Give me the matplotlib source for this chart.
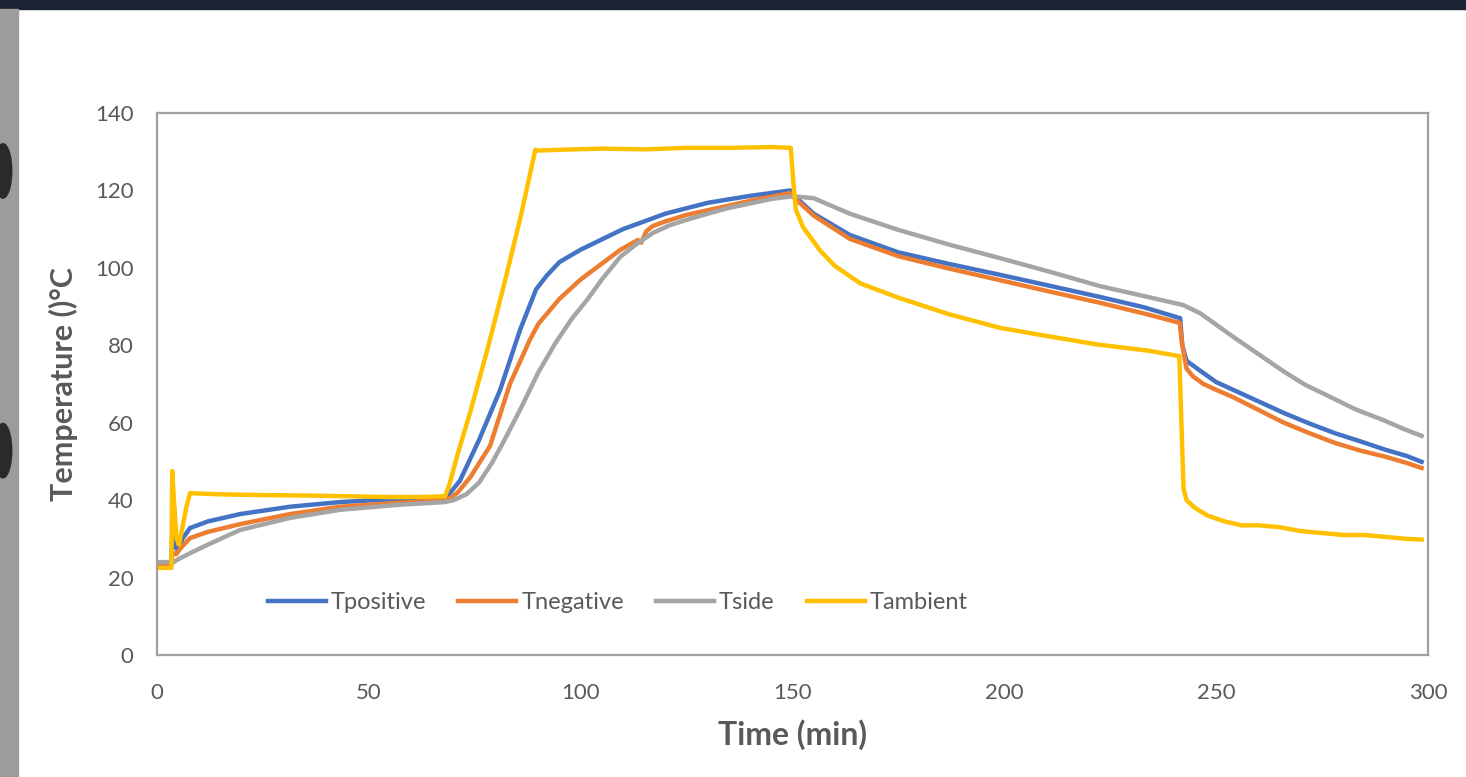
import numpy as np
import matplotlib.pyplot as plt
from matplotlib.patches import Rectangle, Ellipse

# time (min) / temperature values
t_pos = [0, 3.4, 3.6, 4.2, 5.0, 6.0, 7.8, 12, 19.6, 31.4, 43.2, 55, 65, 68.5, 71.5, 76, 81, 85.7,
         89.5, 92, 95, 100, 110, 120, 130, 140, 149.5, 150.5, 155, 163.5, 175, 187, 199, 211,
         222.5, 233, 241.5, 242.0, 243, 246, 250, 254, 260, 266, 272, 278, 284, 290, 295, 298.5]
T_pos = [23.5, 23.5, 32, 28, 27, 30, 32.8, 34.5, 36.4, 38.3, 39.5, 40.2, 40.6, 41, 45, 55.5, 68.5, 84,
         94.5, 98, 101.5, 104.7, 110, 114, 116.8, 118.6, 120, 118.5, 114, 108.5, 104, 101, 98.2, 95.3,
         92.5, 89.8, 87, 80, 76, 73.6, 70.5, 68.5, 65.5, 62.5, 59.8, 57.3, 55.2, 53, 51.4, 49.9]

t_neg = [0, 3.4, 3.6, 4.5, 5.5, 7.8, 12, 19.6, 31.4, 43.2, 57, 68.5, 71, 74, 78.6, 83.3, 88, 90, 95,
         100, 104.5, 109.3, 112, 113.5, 114.3, 115.5, 117, 120, 125, 133, 140.7, 149.4, 150.5, 155,
         163.5, 175, 187, 199, 211, 222.5, 233, 241.4, 242, 243, 244.5, 247, 250, 254, 260, 266, 272,
         278, 284, 290, 295, 298.5]
T_neg = [23.5, 23.5, 26.5, 26, 27.5, 30.2, 31.8, 33.8, 36.4, 38.3, 39.3, 40, 42, 46, 54, 70, 81.4, 85.5, 92,
         97, 100.7, 104.6, 106.3, 107.2, 106.5, 109.5, 110.8, 112, 113.7, 115.6, 117.5, 119.3, 118, 113.5,
         107.5, 103, 99.8, 96.8, 93.8, 91, 88.2, 85.8, 80, 74, 72, 70, 68.5, 66.6, 63.3, 60, 57.3,
         54.8, 52.8, 51.2, 49.6, 48.3]

t_side = [0, 4.0, 4.6, 5.5, 7.8, 12, 19.6, 31.4, 43.2, 57, 68, 70, 73, 76, 79, 82, 86, 90, 94, 98, 101.5,
          105, 109.3, 113, 117, 121, 125, 130, 135, 140.7, 145, 150, 155, 163.5, 175, 187, 199, 210.7,
          222.5, 233, 242.2, 246.2, 254, 262, 266, 271, 277.6, 283, 289.4, 294, 298.5]
T_side = [24, 24, 24.5, 25, 26.3, 28.5, 32.3, 35.4, 37.5, 38.8, 39.5, 40, 41.5, 44.5, 49.5, 55.5, 64, 73, 80.5, 87, 91.7,
          97, 102.8, 106, 109, 111, 112.4, 114, 115.5, 116.8, 117.8, 118.5, 118, 114, 109.8, 106, 102.5, 99,
          95.3, 92.7, 90.4, 88.3, 82.2, 76.2, 73.2, 69.8, 66.3, 63.4, 60.7, 58.5, 56.6]

t_amb = [0, 3.4, 3.6, 4.0, 4.6, 5.2, 6.0, 7.0, 7.8, 15, 25, 35, 45, 55, 62, 68, 69, 71, 74, 78, 82, 86,
         89.3, 90, 95, 105, 115, 125, 135, 145, 149.6, 150.2, 150.8, 152.5, 156.5, 160, 166, 175, 187,
         199, 210, 222, 234, 241.3, 241.8, 242.3, 243, 245, 248, 252, 256, 260, 265, 270, 275, 280, 285,
         290, 295, 298.5]
T_amb = [22.5, 22.5, 47.5, 40, 30, 28.5, 33, 38.5, 41.8, 41.5, 41.3, 41.2, 41.0, 40.8, 40.8, 41, 44, 52, 63,
         79, 96, 114, 130.5, 130.3, 130.5, 130.8, 130.6, 131, 131, 131.2, 131, 122, 115, 110.5, 104.5, 100.5,
         96, 92.3, 88, 84.5, 82.4, 80.2, 78.6, 77.2, 60, 43, 40, 38, 36, 34.5, 33.5, 33.5, 33, 32, 31.5,
         31, 31, 30.5, 30, 29.8]

series = [("Tpositive", t_pos, T_pos, "#4472C4"),
          ("Tnegative", t_neg, T_neg, "#ED7D31"),
          ("Tside", t_side, T_side, "#A5A5A5"),
          ("Tambient", t_amb, T_amb, "#FFC000")]

plt.rcParams['font.family'] = ['Lato', 'DejaVu Sans']
txt = "#595959"

fig = plt.figure(figsize=(14.66, 7.77), dpi=100)
fig.patch.set_facecolor("white")
# frame of the screenshot: dark band on top, grey strip on the left
fig.patches.append(Rectangle((0, 1 - 9/777), 1, 9/777, transform=fig.transFigure,
                             color="#1c2333", zorder=0))
fig.patches.append(Rectangle((0, 0), 18/1466, 1 - 9/777, transform=fig.transFigure,
                             color="#9c9c9c", zorder=0))
for yc in [0.78, 0.42]:
    fig.patches.append(Ellipse((0.002, yc), 0.012, 0.07, transform=fig.transFigure,
                               color="#2a2a2a", zorder=1))

ax = fig.add_axes([157/1466, 1 - 655/777, 1271/1466, 542/777])
for name, t, T, c in series:
    ax.plot(t, T, color=c, lw=3.2, label=name, solid_joinstyle="round")

ax.set_xlim(0, 300)
ax.set_ylim(0, 140)
ax.set_xticks(np.arange(0, 301, 50))
ax.set_yticks(np.arange(0, 141, 20))
ax.tick_params(length=0, labelsize=16, labelcolor=txt)
ax.tick_params(axis="x", pad=20)
ax.tick_params(axis="y", pad=17)
for s in ax.spines.values():
    s.set_color("#a0a0a0")
    s.set_linewidth(1.6)

ax.set_xlabel("Time (min)", fontsize=23, fontweight="bold", color=txt, labelpad=12)
ax.set_ylabel("Temperature ()°C", fontsize=22, fontweight="bold", color=txt, labelpad=12)

leg = ax.legend(loc="center left", bbox_to_anchor=(0.087, 0.096), ncol=4, frameon=False,
                fontsize=17, handlelength=2.46, handletextpad=0.21, columnspacing=1.36,
                borderpad=0, borderaxespad=0)
for txtobj in leg.get_texts():
    txtobj.set_color(txt)

fig.savefig("out.png", dpi=100)
